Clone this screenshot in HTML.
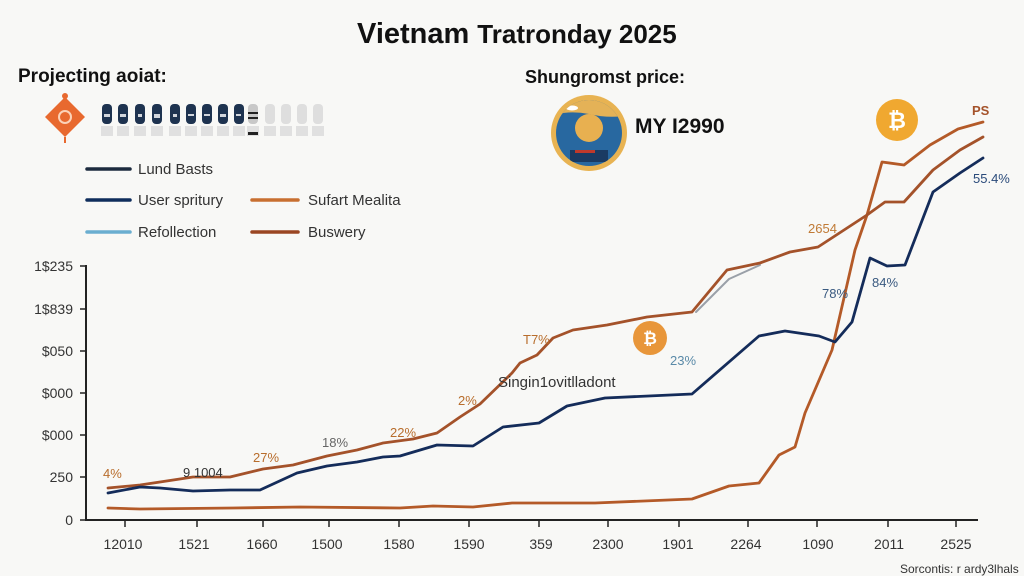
<!DOCTYPE html>
<html><head><meta charset="utf-8">
<style>
html,body{margin:0;padding:0;background:#f8f8f6;}
svg{display:block;}
text{font-family:"Liberation Sans",Arial,sans-serif;}
</style></head>
<body>
<svg width="1024" height="576" viewBox="0 0 1024 576" xmlns="http://www.w3.org/2000/svg">
<rect width="1024" height="576" fill="#f8f8f6"/>

<!-- Title -->
<text x="357" y="43" font-weight="bold" fill="#111"><tspan font-size="29">Vietnam</tspan><tspan font-size="26" dx="8">Tratronday 2025</tspan></text>

<text x="18" y="82" font-size="19" font-weight="bold" fill="#111">Projecting aoiat:</text>
<text x="525" y="83" font-size="18" font-weight="bold" fill="#111">Shungromst price:</text>

<!-- orange diamond icon -->
<g transform="translate(65,117)">
  <polygon points="0,-20 20,0 0,20 -20,0" fill="#e8692f"/>
  <circle cx="0" cy="-21" r="3" fill="#e8692f"/>
  <line x1="0" y1="20" x2="0" y2="26" stroke="#e8692f" stroke-width="2"/>
  <circle cx="0" cy="0" r="6" fill="none" stroke="#fbd2b8" stroke-width="2"/>
</g>

<!-- icon row -->
<g>
  <g fill="#1e3350">
    <rect x="102" y="104" width="10" height="20" rx="4"/>
    <rect x="118" y="104" width="10" height="20" rx="4"/>
    <rect x="135" y="104" width="10" height="20" rx="4"/>
    <rect x="152" y="104" width="10" height="20" rx="4"/>
    <rect x="170" y="104" width="10" height="20" rx="4"/>
    <rect x="186" y="104" width="10" height="20" rx="4"/>
    <rect x="202" y="104" width="10" height="20" rx="4"/>
    <rect x="218" y="104" width="10" height="20" rx="4"/>
    <rect x="234" y="104" width="10" height="20" rx="4"/>
  </g>
  <rect x="248" y="104" width="10" height="20" rx="4" fill="#c8c8c8"/>
  <rect x="248" y="112" width="10" height="2" fill="#222"/>
  <rect x="248" y="117" width="10" height="2" fill="#222"/>
  <g fill="#dedede">
    <rect x="265" y="104" width="10" height="20" rx="4"/>
    <rect x="281" y="104" width="10" height="20" rx="4"/>
    <rect x="297" y="104" width="10" height="20" rx="4"/>
    <rect x="313" y="104" width="10" height="20" rx="4"/>
  </g>
  <g fill="#e0e0e0">
    <rect x="101" y="126" width="12" height="10"/>
    <rect x="117" y="126" width="12" height="10"/>
    <rect x="134" y="126" width="12" height="10"/>
    <rect x="151" y="126" width="12" height="10"/>
    <rect x="169" y="126" width="12" height="10"/>
    <rect x="185" y="126" width="12" height="10"/>
    <rect x="201" y="126" width="12" height="10"/>
    <rect x="217" y="126" width="12" height="10"/>
    <rect x="233" y="126" width="12" height="10"/>
    <rect x="247" y="126" width="12" height="10"/>
    <rect x="264" y="126" width="12" height="10"/>
    <rect x="280" y="126" width="12" height="10"/>
    <rect x="296" y="126" width="12" height="10"/>
    <rect x="312" y="126" width="12" height="10"/>
  </g>
  <rect x="248" y="132" width="10" height="3" fill="#222"/>
  <g fill="#fff" opacity="0.8">
    <rect x="104" y="114" width="6" height="3"/><rect x="120" y="114" width="6" height="3"/>
    <rect x="138" y="114" width="4" height="3"/><rect x="154" y="114" width="6" height="4"/>
    <rect x="173" y="114" width="4" height="3"/><rect x="188" y="114" width="6" height="2"/>
    <rect x="204" y="114" width="6" height="2"/><rect x="220" y="114" width="6" height="3"/>
    <rect x="236" y="114" width="5" height="2"/>
  </g>
</g>

<!-- legend -->
<g stroke-width="3.5" stroke-linecap="round">
  <line x1="87" y1="169" x2="130" y2="169" stroke="#1c2a3e"/>
  <line x1="87" y1="200" x2="130" y2="200" stroke="#0f2d5c"/>
  <line x1="87" y1="232" x2="130" y2="232" stroke="#6aaed0"/>
  <line x1="252" y1="200" x2="298" y2="200" stroke="#c86f30"/>
  <line x1="252" y1="232" x2="298" y2="232" stroke="#9a4622"/>
</g>
<g font-size="15" fill="#333">
  <text x="138" y="174">Lund Basts</text>
  <text x="138" y="205">User spritury</text>
  <text x="138" y="237">Refollection</text>
  <text x="308" y="205">Sufart Mealita</text>
  <text x="308" y="237">Buswery</text>
</g>

<!-- medal -->
<defs><clipPath id="inner"><circle cx="589" cy="133" r="33"/></clipPath></defs>
<circle cx="589" cy="133" r="38" fill="#e8b352"/>
<circle cx="589" cy="133" r="33" fill="#2868a0"/>
<g clip-path="url(#inner)">
  <path d="M550,95 L630,95 L630,115 Q610,119 589,114 Q568,110 550,116 Z" fill="#e4b257"/>
  <circle cx="589" cy="128" r="14" fill="#e8b050"/>
  <rect x="570" y="150" width="38" height="12" fill="#1a3b63"/>
  <rect x="575" y="150" width="20" height="3" fill="#c0392b"/>
  <ellipse cx="572" cy="108" rx="6" ry="2.5" fill="#fff"/>
</g>
<text x="635" y="133" font-size="21" font-weight="bold" fill="#111">MY I2990</text>

<!-- axes -->
<g stroke="#222" stroke-width="2">
  <line x1="86" y1="265" x2="86" y2="521"/>
  <line x1="85" y1="520" x2="978" y2="520"/>
</g>
<g stroke="#222" stroke-width="1.5">
  <line x1="80" y1="266" x2="86" y2="266"/>
  <line x1="80" y1="309" x2="86" y2="309"/>
  <line x1="80" y1="351" x2="86" y2="351"/>
  <line x1="80" y1="393" x2="86" y2="393"/>
  <line x1="80" y1="435" x2="86" y2="435"/>
  <line x1="80" y1="477" x2="86" y2="477"/>
  <line x1="80" y1="520" x2="86" y2="520"/>
  <line x1="125" y1="520" x2="125" y2="527"/>
  <line x1="197" y1="520" x2="197" y2="527"/>
  <line x1="263" y1="520" x2="263" y2="527"/>
  <line x1="329" y1="520" x2="329" y2="527"/>
  <line x1="399" y1="520" x2="399" y2="527"/>
  <line x1="469" y1="520" x2="469" y2="527"/>
  <line x1="539" y1="520" x2="539" y2="527"/>
  <line x1="608" y1="520" x2="608" y2="527"/>
  <line x1="679" y1="520" x2="679" y2="527"/>
  <line x1="748" y1="520" x2="748" y2="527"/>
  <line x1="817" y1="520" x2="817" y2="527"/>
  <line x1="888" y1="520" x2="888" y2="527"/>
  <line x1="956" y1="520" x2="956" y2="527"/>
</g>
<g font-size="14" fill="#333" text-anchor="end">
  <text x="73" y="271">1$235</text>
  <text x="73" y="314">1$839</text>
  <text x="73" y="356">$050</text>
  <text x="73" y="398">$000</text>
  <text x="73" y="440">$000</text>
  <text x="73" y="482">250</text>
  <text x="73" y="525">0</text>
</g>
<g font-size="14" fill="#333" text-anchor="middle">
  <text x="123" y="549">12010</text>
  <text x="194" y="549">1521</text>
  <text x="262" y="549">1660</text>
  <text x="327" y="549">1500</text>
  <text x="399" y="549">1580</text>
  <text x="469" y="549">1590</text>
  <text x="541" y="549">359</text>
  <text x="608" y="549">2300</text>
  <text x="678" y="549">1901</text>
  <text x="746" y="549">2264</text>
  <text x="818" y="549">1090</text>
  <text x="889" y="549">2011</text>
  <text x="956" y="549">2525</text>
</g>

<!-- series -->
<g fill="none" stroke-width="2.8" stroke-linejoin="round" stroke-linecap="round">
  <polyline stroke="#b45a28" points="108,508 140,509 233,508 300,507 400,508 433,506 473,507 512,503 595,503 692,499 729,486 759,483 779,455 795,447 805,413 832,350 855,250 867,215 882,162 904,165 930,145 958,129 983,122"/>
  <polyline stroke="#9aa0a8" stroke-width="2" points="696,312 729,279 760,265"/>
  <polyline stroke="#a4522a" points="108,488 140,485 160,482 193,477 230,477 263,469 293,465 327,456 357,450 383,443 413,439 437,433 460,417 480,404 512,373 520,363 537,355 553,338 573,330 607,325 647,317 692,312 727,270 760,263 790,252 818,247 867,215 885,202 904,202 933,170 960,150 983,137"/>
  <polyline stroke="#142c5a" points="108,493 140,487 160,488 193,491 230,490 260,490 297,473 327,466 357,462 383,457 400,456 437,445 473,446 503,427 539,423 567,406 605,398 692,394 759,336 785,331 819,336 835,342 852,322 870,258 887,266 905,265 933,192 960,173 983,158"/>
</g>

<!-- annotations -->
<g font-size="13">
  <text x="103" y="478" fill="#b86d2c">4%</text>
  <text x="183" y="477" fill="#333">9 1004</text>
  <text x="253" y="462" fill="#b86d2c">27%</text>
  <text x="322" y="447" fill="#666">18%</text>
  <text x="390" y="437" fill="#b86d2c">22%</text>
  <text x="458" y="405" fill="#b86d2c">2%</text>
  <text x="523" y="344" fill="#b86d2c">T7%</text>
  <text x="670" y="365" fill="#5a8aa8">23%</text>
  <text x="808" y="233" fill="#c07a35">2654</text>
  <text x="822" y="298" fill="#3a5a80">78%</text>
  <text x="872" y="287" fill="#3a5a80">84%</text>
  <text x="973" y="183" fill="#2a4a7a">55.4%</text>
  <text x="972" y="115" fill="#a4522a" font-weight="bold">PS</text>
</g>
<text x="498" y="387" font-size="15" fill="#333">Singin1ovitlladont</text>

<!-- bitcoin coins -->
<circle cx="650" cy="338" r="17" fill="#e8963a"/>
<text x="650" y="344" font-size="17" font-weight="bold" fill="#fff" text-anchor="middle">₿</text>
<circle cx="897" cy="120" r="21" fill="#f0a830"/>
<text x="897" y="128" font-size="22" font-weight="bold" fill="#fff" text-anchor="middle">₿</text>

<text x="900" y="573" font-size="12" fill="#333">Sorcontis: r ardy3lhals</text>
</svg>
</body></html>
